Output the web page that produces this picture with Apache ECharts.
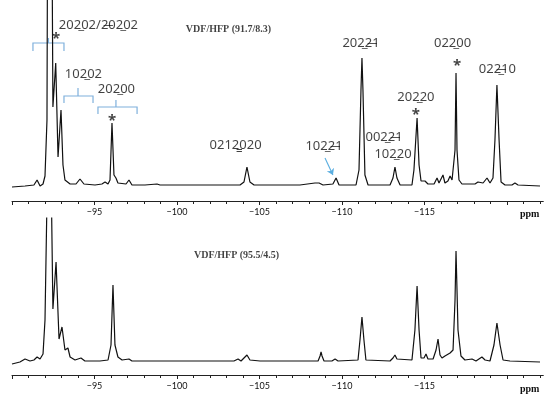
<!DOCTYPE html>
<html><head><meta charset="utf-8">
<script src="https://cdn.jsdelivr.net/npm/echarts@6/dist/echarts.min.js"></script>
<style>html,body{margin:0;padding:0;background:#fff}#c{width:550px;height:402px}</style>
</head><body><div id="c"></div>
<script>
// ---- Data (ppm, relative intensity) ----
const ppmTickLabels = [-95, -100, -105, -110, -115];
const ppmMajorTicks = [-90, -95, -100, -105, -110, -115, -120];
const ppmMinorTicks = [-91,-92,-93,-94,-96,-97,-98,-99,-101,-102,-103,-104,-106,-107,-108,-109,-111,-112,-113,-114,-116,-117,-118,-119,-121,-122];

const spectrumTop = [
[-90.0,-1],[-90.79,0],[-91.33,1],[-91.52,6],[-91.70,0],[-91.88,2],[-92.00,10],[-92.12,66],[-92.18,400],[-92.30,520],[-92.40,320],
[-92.48,79],[-92.65,123],[-92.79,29],[-92.97,76],[-93.09,21],[-93.21,6],[-93.52,2],[-93.88,2],[-94.12,7],[-94.36,2],
[-95.03,1],[-95.45,2],[-95.64,4],[-95.82,2],[-95.94,6],[-96.06,63],[-96.18,11],[-96.30,8],[-96.42,3],[-96.91,2],[-97.09,6],
[-97.27,1],[-98.06,1],[-98.79,2],[-98.97,1],[-99.70,1],[-101.39,1],[-103.82,1],[-104.06,4],[-104.24,19],[-104.42,4],[-104.67,1],
[-107.45,1],[-108.36,3],[-108.48,5],[-108.61,3],[-108.73,4],[-108.85,1],[-109.45,2],[-109.64,8],[-109.82,1],[-110.85,1],
[-111.03,16],[-111.15,96],[-111.21,128],[-111.27,96],[-111.39,11],[-111.58,1],[-112.91,1],[-113.09,8],[-113.21,19],[-113.33,8],
[-113.52,1],[-114.24,1],[-114.36,16],[-114.55,68],[-114.67,21],[-114.79,5],[-114.91,3],[-115.03,5],[-115.21,2],[-115.58,2],
[-115.76,8],[-115.88,3],[-116.00,4],[-116.12,11],[-116.24,3],[-116.42,5],[-116.55,10],[-116.67,6],[-116.73,8],[-116.85,36],
[-116.91,113],[-116.97,36],[-117.09,6],[-117.27,2],[-118.06,2],[-118.24,4],[-118.36,6],[-118.55,3],[-118.79,8],[-118.97,3],
[-119.15,8],[-119.27,46],[-119.39,101],[-119.52,46],[-119.64,4],[-119.88,1],[-120.30,1],[-120.48,3],[-120.67,1],[-122.0,0]
];

const spectrumBottom = [
[-90.0,-2],[-90.48,0],[-90.79,3],[-90.91,5],[-91.09,1],[-91.33,2],[-91.52,5],[-91.70,3],[-91.88,8],[-92.00,42],[-92.12,162],
[-92.24,420],[-92.36,200],[-92.48,53],[-92.67,100],[-92.85,23],[-93.03,35],[-93.21,12],[-93.39,14],[-93.52,5],[-93.82,2],
[-94.18,4],[-94.42,1],[-95.33,1],[-95.82,2],[-96.00,17],[-96.12,77],[-96.24,17],[-96.42,5],[-96.67,2],[-97.09,3],[-97.27,1],
[-100.18,1],[-103.45,1],[-103.70,3],[-103.88,1],[-104.24,7],[-104.42,2],[-105.03,1],[-108.55,1],[-108.67,6],[-108.73,10],
[-108.79,6],[-108.91,1],[-109.39,1],[-109.58,3],[-109.76,1],[-110.97,2],[-111.09,22],[-111.21,45],[-111.33,22],[-111.45,2],
[-112.91,1],[-113.09,4],[-113.21,7],[-113.33,3],[-114.24,2],[-114.42,32],[-114.55,76],[-114.67,32],[-114.79,4],[-114.97,4],
[-115.09,8],[-115.21,3],[-115.52,3],[-115.70,12],[-115.82,23],[-115.94,7],[-116.06,4],[-116.24,6],[-116.36,5],[-116.55,9],
[-116.73,12],[-116.85,62],[-116.91,111],[-116.97,72],[-117.03,32],[-117.21,6],[-117.45,2],[-117.88,3],[-118.12,1],[-118.48,5],
[-118.67,2],[-118.79,3],[-118.97,1],[-119.21,17],[-119.39,39],[-119.58,17],[-119.76,2],[-120.18,1],[-122.0,0]
];

// peak assignment labels: [ppm, intensity, text]
const peakLabels = [
  [-95.24, 161, '202\u033202/2\u033602\u033202'],
  [-94.33, 112, '102\u033202'],
  [-96.33, 97, '202\u033200'],
  [-103.55, 41, '0212\u0333020'],
  [-111.15, 143, '202\u03322\u03361'],
  [-108.91, 40, '102\u03322\u03361'],
  [-112.55, 49, '002\u03322\u03361'],
  [-113.09, 32, '102\u033220'],
  [-114.48, 89, '202\u033220'],
  [-116.70, 143, '022\u033200'],
  [-119.42, 117, '022\u0336\u033210']
];
const starMarks = [[-92.67, 147], [-96.06, 65], [-114.48, 71], [-116.97, 120]];
const titleTop = [[-103.12, 157, 'VDF/HFP (91.7/8.3)']];
const titleBottom = [[-103.61, 107, 'VDF/HFP (95.5/4.5)']];
// brackets: [left ppm, right ppm, centre ppm, bar level, end level, tick level]
const brackets = [
  [-91.27, -93.15, -92.21, 143, 135, 148],
  [-93.15, -94.91, -94.0, 90, 83, 98],
  [-95.21, -97.58, -96.3, 79, 72, 86]
];
const arrow10221 = [[-108.97, 28], [-109.45, 11]];

// ---- Chart ----
const chart = echarts.init(document.getElementById('c'), null, {renderer: 'canvas'});
const AX_MIN = -122.2, AX_MAX = -90;
function majorAxis(gi) {
  return {
    gridIndex: gi, type: 'value', min: AX_MIN, max: AX_MAX, inverse: true, position: 'bottom', offset: 0,
    axisLine: {show: true, onZero: false, lineStyle: {color: '#222', width: 1}},
    axisTick: {show: true, length: 4, customValues: ppmMajorTicks, lineStyle: {color: '#222'}},
    splitLine: {show: false},
    axisLabel: {
      customValues: ppmTickLabels,
      margin: 7, fontSize: 9, color: '#111', fontFamily: 'Lato',
      formatter: v => '\u2212' + Math.abs(v)
    }
  };
}
function minorAxis(gi) {
  return {
    gridIndex: gi, type: 'value', min: AX_MIN, max: AX_MAX, inverse: true, position: 'bottom', offset: 0,
    axisLine: {show: false, onZero: false},
    axisTick: {show: true, length: 3, customValues: ppmMinorTicks, lineStyle: {color: '#222'}},
    splitLine: {show: false},
    axisLabel: {show: false}
  };
}
function yAxisCfg(gi, mn, mx) {
  return {gridIndex: gi, type: 'value', min: mn, max: mx, show: false, splitLine: {show: false}};
}
const labelFont = {fontFamily: 'Noto Sans', fontSize: 13, color: '#111'};
function textSeries(xi, yi, arr, style) {
  return {
    type: 'scatter', xAxisIndex: xi, yAxisIndex: yi, symbolSize: 0, silent: true, clip: false,
    data: arr.map(d => ({value: [d[0], d[1]], name: d[2]})),
    label: Object.assign({show: true, position: 'inside', formatter: '{b}'}, style),
    z: 5
  };
}
const bracketLines = brackets.map(b => ({coords: [
  [b[0], b[4]], [b[0], b[3]], [b[2], b[3]], [b[2], b[5]], [b[2], b[3]], [b[1], b[3]], [b[1], b[4]]
]}));
const gridW = (AX_MAX - AX_MIN) * 16.5;

chart.setOption({
  animation: false,
  backgroundColor: '#fff',
  grid: [
    {left: 12, top: 0, width: gridW, height: 201},
    {left: 12, top: 218, width: gridW, height: 157}
  ],
  xAxis: [majorAxis(0), minorAxis(0), majorAxis(1), minorAxis(1)],
  yAxis: [yAxisCfg(0, -15, 186), yAxisCfg(1, -13, 144)],
  series: [
    {type: 'line', xAxisIndex: 0, yAxisIndex: 0, data: spectrumTop, showSymbol: false, clip: true,
      lineStyle: {color: '#111', width: 1.2}},
    {type: 'line', xAxisIndex: 2, yAxisIndex: 1, data: spectrumBottom, showSymbol: false, clip: true,
      lineStyle: {color: '#111', width: 1.2}},
    textSeries(0, 0, peakLabels, labelFont),
    textSeries(0, 0, starMarks.map(s => [s[0], s[1], '*']), {fontFamily: 'Noto Sans', fontSize: 15, fontWeight: 'bold', color: '#111'}),
    textSeries(0, 0, titleTop, {fontFamily: 'Liberation Serif', fontSize: 10, fontWeight: 'bold', color: '#111'}),
    textSeries(2, 1, titleBottom, {fontFamily: 'Liberation Serif', fontSize: 10, fontWeight: 'bold', color: '#111'}),
    {type: 'lines', coordinateSystem: 'cartesian2d', xAxisIndex: 0, yAxisIndex: 0, polyline: true, silent: true,
      data: bracketLines, lineStyle: {color: '#7fb0dc', width: 1.2, opacity: 1}},
    {type: 'lines', coordinateSystem: 'cartesian2d', xAxisIndex: 0, yAxisIndex: 0, silent: true,
      symbol: ['none', 'arrow'], symbolSize: 6,
      data: [{coords: arrow10221}], lineStyle: {color: '#5aaee0', width: 1.1, opacity: 1}}
  ],
  graphic: [
    {type: 'text', left: 520, top: 209, style: {text: 'ppm', font: 'bold 10px "Liberation Serif"', fill: '#111'}},
    {type: 'text', left: 520, top: 384, style: {text: 'ppm', font: 'bold 10px "Liberation Serif"', fill: '#111'}}
  ]
});
</script></body></html>
